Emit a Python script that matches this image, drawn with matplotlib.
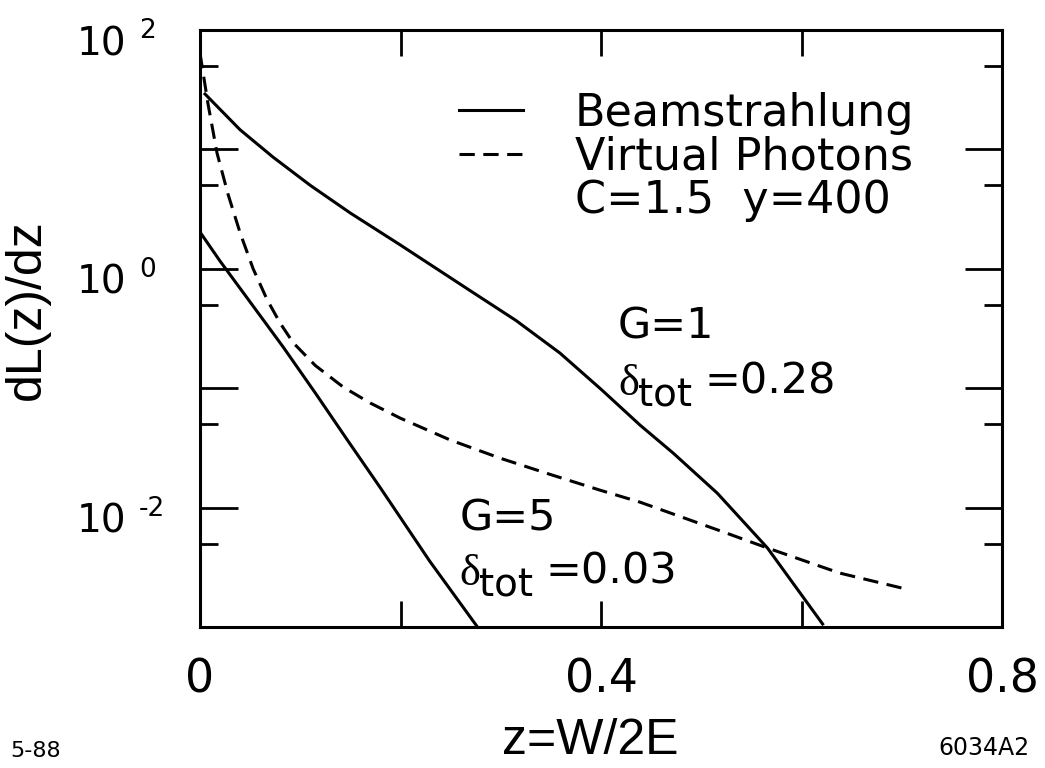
import matplotlib
matplotlib.use('Agg')
import matplotlib.pyplot as plt
from matplotlib.lines import Line2D
from matplotlib.ticker import FixedLocator, NullFormatter, NullLocator

plt.rcParams['font.family'] = ['DejaVu Sans']

# curves: z = W/2E, dL/dz
z_g1 = [0.005, 0.040, 0.073, 0.110, 0.150, 0.200, 0.269, 0.315, 0.359, 0.400,
        0.439, 0.472, 0.516, 0.566, 0.621]
L_g1 = [29.1, 14.6, 8.6, 5.0, 2.93, 1.58, 0.66, 0.37, 0.197, 0.098,
        0.049, 0.0286, 0.0132, 0.00459, 0.00106]

z_g5 = [0.000, 0.020, 0.050, 0.083, 0.115, 0.147, 0.180, 0.229, 0.276]
L_g5 = [2.03, 1.16, 0.527, 0.221, 0.0912, 0.0368, 0.0146, 0.00357, 0.00102]

z_vp = [0.000, 0.008, 0.017, 0.028, 0.040, 0.053, 0.067, 0.080, 0.093, 0.115, 0.143,
        0.170, 0.200, 0.249, 0.299, 0.349, 0.399, 0.439, 0.522, 0.566, 0.638, 0.700]
L_vp = [64.0, 24.0, 9.3, 4.2, 2.0, 1.0, 0.55, 0.35, 0.24, 0.155, 0.102,
        0.075, 0.056, 0.037, 0.026, 0.019, 0.014, 0.0111, 0.00625, 0.00459, 0.00283, 0.00212]

x_ticks = [0.0, 0.2, 0.4, 0.6, 0.8]
x_tick_labels = ['0', '', '0.4', '', '0.8']
y_major = [1e-3, 1e-2, 1e-1, 1e0, 1e1, 1e2]
y_minor = [5e-3, 5e-2, 5e-1, 5e0, 5e1]
y_label_vals = [1e2, 1e0, 1e-2]
y_label_exps = ['2', '0', '-2']

legend_labels = ['Beamstrahlung', 'Virtual Photons', 'C=1.5  y=400']

# curve annotations (anchor in data coords)
g1_pos = (0.417, 0.263)
g1_delta_pos = (0.417, 0.0877)
g5_pos = (0.259, 0.00649)
g5_delta_pos = (0.259, 0.00225)

lw = 2.2
dash = (0, (5, 2.8))

fig = plt.figure(figsize=(10.45, 7.68), dpi=100)
ax = fig.add_axes([0.1914, 0.1836, 0.7675, 0.7773])
ax.set_yscale('log')

ax.plot(z_g1, L_g1, color='black', lw=lw)
ax.plot(z_g5, L_g5, color='black', lw=lw)
ax.plot(z_vp, L_vp, color='black', lw=lw, linestyle=dash)

ax.set_xlim(0, 0.8)
ax.set_ylim(1e-3, 1e2)

for s in ax.spines.values():
    s.set_linewidth(2.2)

ax.xaxis.set_major_locator(FixedLocator(x_ticks))
ax.set_xticklabels(x_tick_labels)
ax.xaxis.set_minor_locator(NullLocator())
ax.yaxis.set_major_locator(FixedLocator(y_major))
ax.yaxis.set_minor_locator(FixedLocator(y_minor))
ax.yaxis.set_major_formatter(NullFormatter())
ax.yaxis.set_minor_formatter(NullFormatter())

ax.tick_params(axis='both', which='both', direction='in', top=True, right=True, width=2)
ax.tick_params(axis='y', which='major', length=27)
ax.tick_params(axis='y', which='minor', length=13)
ax.tick_params(axis='x', which='major', length=19, labelsize=33, pad=22)

# y tick labels drawn as "10" with a raised exponent
ytr = ax.get_yaxis_transform()
for v, e in zip(y_label_vals, y_label_exps):
    ax.annotate('10', xy=(0, v), xycoords=ytr, xytext=(-53, -18),
                textcoords='offset points', ha='right', va='baseline', fontsize=28)
    ax.annotate(e, xy=(0, v), xycoords=ytr, xytext=(-44, -6),
                textcoords='offset points', ha='left', va='baseline', fontsize=19)

ax.set_xlabel('z=W/2E', fontsize=36, family='Liberation Sans')
ax.xaxis.set_label_coords(0.486, -0.152)
ax.set_ylabel('dL(z)/dz', fontsize=36, family='Liberation Sans')
ax.yaxis.set_label_coords(-0.187, 0.531)

handles = [Line2D([], [], color='black', lw=lw),
           Line2D([], [], color='black', lw=lw, linestyle=dash),
           Line2D([], [], linestyle='none')]
ax.legend(handles, legend_labels, loc='upper left', bbox_to_anchor=(0.323, 0.897),
          frameon=False, fontsize=32, handlelength=1.44, handletextpad=1.17,
          labelspacing=0.02, borderaxespad=0, borderpad=0)

def delta_label(pos, val):
    ax.annotate('\u03b4', xy=pos, ha='left', va='baseline', fontsize=32,
                family='Liberation Serif')
    ax.annotate('tot', xy=pos, xytext=(14, -8), textcoords='offset points',
                ha='left', va='baseline', fontsize=28)
    ax.annotate('=' + val, xy=pos, xytext=(62, 1), textcoords='offset points',
                ha='left', va='baseline', fontsize=31)

ax.annotate('G=1', xy=g1_pos, ha='left', va='baseline', fontsize=31)
delta_label(g1_delta_pos, '0.28')
ax.annotate('G=5', xy=g5_pos, ha='left', va='baseline', fontsize=31)
delta_label(g5_delta_pos, '0.03')

fig.text(10 / 1045, 1 - 757 / 768, '5-88', fontsize=16, ha='left', va='baseline')
fig.text(1030 / 1045, 1 - 755 / 768, '6034A2', fontsize=17, ha='right', va='baseline')

fig.savefig('out.png', dpi=100)
